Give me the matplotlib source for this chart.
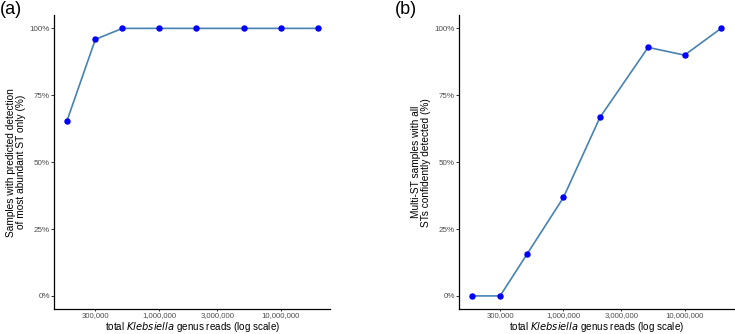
import numpy as np
import matplotlib.pyplot as plt
from matplotlib.ticker import FixedLocator, FuncFormatter

plt.rcParams['font.family'] = ['Liberation Sans', 'DejaVu Sans']

# lecturas totales de Klebsiella (x) y porcentajes (y)
reads = [175000, 300000, 500000, 1000000, 2000000, 5000000, 10000000, 20000000]
pct_a = [65.3, 95.9, 100, 100, 100, 100, 100, 100]
pct_b = [0, 0, 15.6, 36.8, 66.7, 92.9, 90.0, 100]

xticks = [300000, 1000000, 3000000, 10000000]
yticks = [0, 25, 50, 75, 100]

ylab_a = "Samples with predicted detection\nof most abundant ST only (%)"
ylab_b = "Multi-ST samples with all\nSTs confidently detected (%)"
xlab = "total $\\it{Klebsiella}$ genus reads (log scale)"

fig = plt.figure(figsize=(7.35, 3.34), dpi=100)
ax_a = fig.add_axes([54.3/735, 1-309.3/334, (330.2-54.3)/735, (309.3-15)/334])
ax_b = fig.add_axes([459.3/735, 1-309.3/334, (733.5-459.3)/735, (309.3-15)/334])

lx = np.log10(reads)
pad = 0.05*(lx.max()-lx.min())
xlim = (10**(lx.min()-pad), 10**(lx.max()+pad))

for ax, ys, ylab in [(ax_a, pct_a, ylab_a), (ax_b, pct_b, ylab_b)]:
    ax.plot(reads, ys, color="#4682B4", lw=1.2, zorder=2)
    ax.scatter(reads, ys, color="#0000FF", s=13, zorder=3)
    ax.set_xscale("log")
    ax.set_xlim(xlim)
    ax.set_ylim(-5, 105)
    ax.xaxis.set_major_locator(FixedLocator(xticks))
    ax.xaxis.set_minor_locator(FixedLocator([]))
    ax.xaxis.set_major_formatter(FuncFormatter(lambda v, p: f"{int(round(v)):,}"))
    ax.set_yticks(yticks)
    ax.set_yticklabels([f"{t}%" for t in yticks])
    ax.spines["top"].set_visible(False)
    ax.spines["right"].set_visible(False)
    ax.spines["left"].set_linewidth(0.9)
    ax.spines["bottom"].set_linewidth(0.9)
    ax.tick_params(axis="both", labelsize=5.8, labelcolor="#4D4D4D", length=2,
                   width=0.7, color="#333333", pad=1.2)
    ax.tick_params(axis="x", labelsize=5.6, length=1.6, pad=0.3)
    ax.set_xlabel(xlab, fontsize=7.1)
    ax.xaxis.label.set_va("baseline")
    ax.xaxis.set_label_coords(0.5, -(329.6-309.3)/294.3)
    ax.set_ylabel(ylab, fontsize=7.3, labelpad=2.5, linespacing=1.0)

fig.text(0/735, 1-0.5/334, "(a)", fontsize=13, va="top", ha="left")
fig.text(395/735, 1-0.5/334, "(b)", fontsize=13, va="top", ha="left")

fig.savefig("out.png", dpi=100)
